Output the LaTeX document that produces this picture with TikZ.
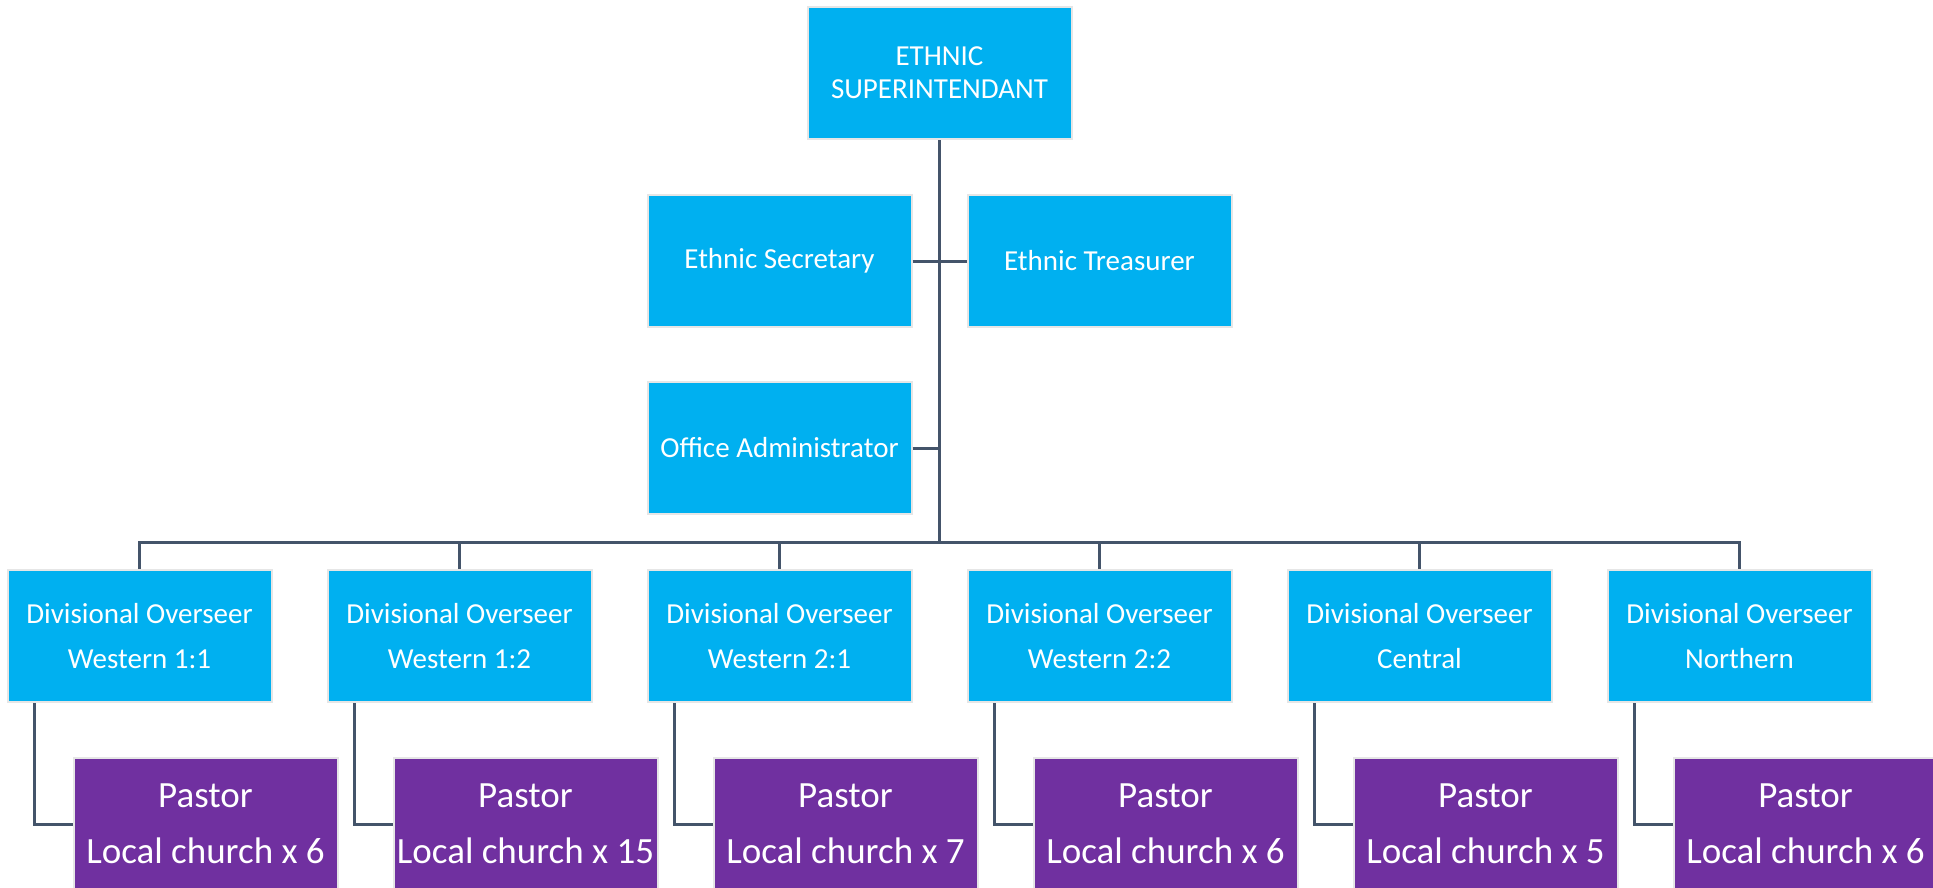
\documentclass[tikz,border=0pt]{standalone}
\usepackage{fontspec}
\setmainfont{Carlito}
\usepackage{tikz}

\definecolor{ofblue}{HTML}{00B0F0}
\definecolor{ofpurple}{HTML}{7030A0}
\definecolor{ofline}{HTML}{44546A}
\definecolor{ofedge}{HTML}{E6E6E6}

\begin{document}
\begin{tikzpicture}[x=1pt,y=-1pt,
  box/.style={draw=ofedge,line width=2pt,fill=ofblue,text=white,minimum width=264pt,minimum height=132pt,inner sep=0pt,align=center,font=\fontsize{29}{45}\selectfont},
  pastorbox/.style={box,fill=ofpurple,font=\fontsize{37}{56}\selectfont},
  link/.style={draw=ofline,line width=3pt}]
\clip (0,0) rectangle (1933,887);
\node[box,font=\fontsize{29}{33}\selectfont] (sup) at (939.5,73) {ETHNIC\\SUPERINTENDANT};
\node[box] (sec) at (779.5,261) {Ethnic Secretary};
\node[box] (tre) at (1099.5,261) {Ethnic Treasurer};
\node[box] (adm) at (779.5,448) {Office Administrator};
\coordinate (hub) at (939.5,542);
\node[box] (div1) at (139.5,636) {Divisional Overseer\\Western 1:1};
\node[box] (div2) at (459.5,636) {Divisional Overseer\\Western 1:2};
\node[box] (div3) at (779.5,636) {Divisional Overseer\\Western 2:1};
\node[box] (div4) at (1099.5,636) {Divisional Overseer\\Western 2:2};
\node[box] (div5) at (1419.5,636) {Divisional Overseer\\Central};
\node[box] (div6) at (1739.5,636) {Divisional Overseer\\Northern};
\node[pastorbox] (pas1) at (205.5,824) {Pastor\\Local church x 6};
\node[pastorbox] (pas2) at (525.5,824) {Pastor\\Local church x 15};
\node[pastorbox] (pas3) at (845.5,824) {Pastor\\Local church x 7};
\node[pastorbox] (pas4) at (1165.5,824) {Pastor\\Local church x 6};
\node[pastorbox] (pas5) at (1485.5,824) {Pastor\\Local church x 5};
\node[pastorbox] (pas6) at (1805.5,824) {Pastor\\Local church x 6};
% upper part
\draw[link] (sup.south) -- (hub);
\draw[link] (sec.east) -- (tre.west);
\draw[link] (adm.east) -- (adm.east -| hub);
% bus to the divisions
\draw[link] (div1.north) -- (div1.north |- hub) -- (div6.north |- hub) -- (div6.north);
\draw[link] (div2.north) -- (div2.north |- hub);
\draw[link] (div3.north) -- (div3.north |- hub);
\draw[link] (div4.north) -- (div4.north |- hub);
\draw[link] (div5.north) -- (div5.north |- hub);
% divisions to pastors
\draw[link] ([xshift=-105pt]div1.south) |- (pas1.west);
\draw[link] ([xshift=-105pt]div2.south) |- (pas2.west);
\draw[link] ([xshift=-105pt]div3.south) |- (pas3.west);
\draw[link] ([xshift=-105pt]div4.south) |- (pas4.west);
\draw[link] ([xshift=-105pt]div5.south) |- (pas5.west);
\draw[link] ([xshift=-105pt]div6.south) |- (pas6.west);
\end{tikzpicture}
\end{document}
